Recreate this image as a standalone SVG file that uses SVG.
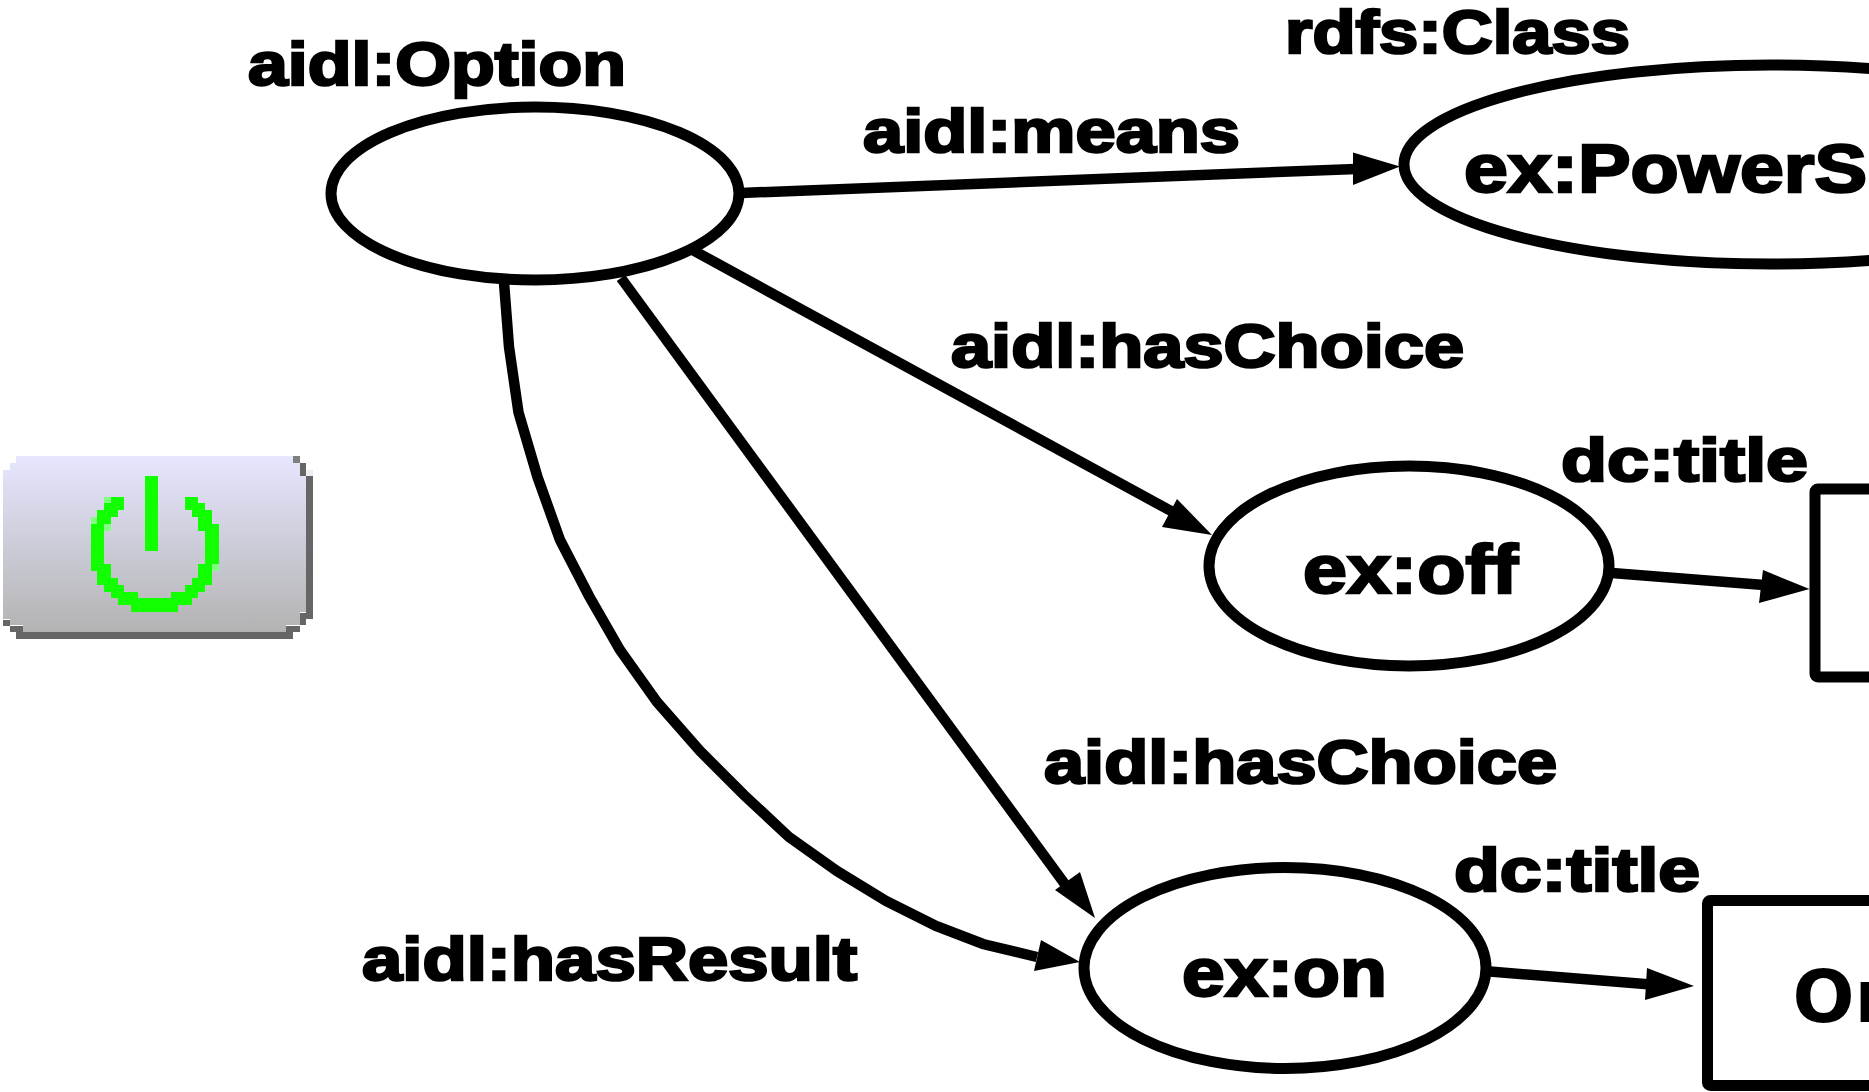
<svg xmlns="http://www.w3.org/2000/svg" width="1869" height="1092" viewBox="0 0 1869 1092">
<style>
text{font-family:"Liberation Sans",Arial,sans-serif;font-weight:700;fill:#000;stroke:#000;stroke-width:2.5}
.lbl{font-size:61px}
.nt{font-size:68px}
.lit{font-family:"DejaVu Sans",sans-serif;font-size:73px;stroke:none}
.shape{fill:#fff;stroke:#000;stroke-width:11}
.edge{fill:none;stroke:#000;stroke-width:10.5}
.head{fill:#000;stroke:none}
</style>
<defs>
<linearGradient id="btn" x1="0" y1="0" x2="0" y2="1">
<stop offset="0" stop-color="#e6e6ff"/><stop offset="1" stop-color="#b3b3b3"/>
</linearGradient>
</defs>
<rect width="1869" height="1092" fill="#fff"/>

<g id="connectors">
<path class="edge" d="M741 193L1356 169"/><polygon class="head" points="1400,166.500 1353,152.500 1353,185"/>
<path class="edge" d="M692.500 250L1172 511.500"/><polygon class="head" points="1212,535 1177,499 1162,527"/>
<path class="edge" d="M621 278L1067 887"/><polygon class="head" points="1095,918 1080,872 1055,890"/>
<path class="edge" d="M504 282.500L509 347L518.500 412.500L537.500 477L560 540L589 596L620 650L657 702L700 751L744 795L789 837L837 871L886 901L936 926L983 944L1037 957"/><polygon class="head" points="1080,962 1041,940 1034,971"/>
<path class="edge" d="M1612 573L1764 585"/><polygon class="head" points="1809.500,589 1763,570 1759,603"/>
<path class="edge" d="M1490 971.500L1651 984.500"/><polygon class="head" points="1694,986 1647,968 1645,1000"/>
</g>

<g id="node-option"><ellipse class="shape" cx="535" cy="193.500" rx="204" ry="86.500"/></g>
<g id="node-option-label"><text class="lbl" x="248" y="85" textLength="378" lengthAdjust="spacingAndGlyphs">aidl:Option</text></g>

<g id="node-powerswitch"><ellipse class="shape" cx="1771" cy="164.500" rx="367" ry="99.500"/>
<text class="nt" x="1464" y="192" textLength="403" lengthAdjust="spacingAndGlyphs">ex:PowerS</text></g>
<g id="node-class-label"><text class="lbl" x="1285" y="53" textLength="345" lengthAdjust="spacingAndGlyphs">rdfs:Class</text></g>

<g id="node-off"><ellipse class="shape" cx="1409" cy="566" rx="200" ry="100"/>
<text class="nt" x="1303" y="593" textLength="215" lengthAdjust="spacingAndGlyphs">ex:off</text></g>

<g id="node-on"><ellipse class="shape" cx="1285" cy="968" rx="201" ry="100.500"/>
<text class="nt" x="1182" y="995.500" textLength="205" lengthAdjust="spacingAndGlyphs">ex:on</text></g>

<g id="node-off-literal"><rect class="shape" x="1815" y="489" width="120" height="188" rx="3"/></g>
<g id="node-on-literal"><rect class="shape" x="1707.500" y="900.500" width="240" height="185" rx="3"/>
<text class="lit" x="1792.500" y="1022">On</text></g>

<g id="edge-labels">
<text class="lbl" x="863" y="152" textLength="377" lengthAdjust="spacingAndGlyphs">aidl:means</text>
<text class="lbl" x="951" y="367" textLength="513" lengthAdjust="spacingAndGlyphs">aidl:hasChoice</text>
<text class="lbl" x="1561" y="480.500" textLength="247" lengthAdjust="spacingAndGlyphs">dc:title</text>
<text class="lbl" x="1044" y="783" textLength="513" lengthAdjust="spacingAndGlyphs">aidl:hasChoice</text>
<text class="lbl" x="1454" y="890.500" textLength="246" lengthAdjust="spacingAndGlyphs">dc:title</text>
<text class="lbl" x="362" y="980" textLength="495" lengthAdjust="spacingAndGlyphs">aidl:hasResult</text>
</g>

<g id="node-button" transform="translate(0,440) scale(0.33333)" shape-rendering="crispEdges">
<polygon fill="url(#btn)" points="48,48 879,48 879,69 900,69 900,108 918,108 918,516 900,516 900,555 858,555 858,575 69,575 69,555 30,555 30,537 9,537 9,90 30,90 30,69 48,69"/>
<path fill="#666" d="M918 108h21v429h-21v18h-18v20h-21v22H48v-22H30v-18H9v-18h21v18h39v20h789v-20h42v-39h18zM900 69h18v39h-18z"/>
<rect x="879" y="48" width="21" height="21" fill="#808080"/>
<rect x="918" y="90" width="21" height="18" fill="#eee"/>
<path fill="#1f0" d="M435 108h39v225h-39zM333 171h39v18h-39zM312 189h60v21h-60zM291 210h63v21h-63zM291 231h42v21h-42zM273 252h39v120h-39zM273 372h60v21h-60zM291 393h42v21h-42zM291 414h63v21h-63zM312 435h60v21h-60zM333 456h81v18h-81zM354 474h222v21H354zM393 495h141v21H393zM555 171h39v18h-39zM555 189h60v21h-60zM576 210h60v21h-60zM594 231h42v21h-42zM594 252h63v21h-63zM615 273h42v99h-42zM594 372h42v42h-42zM576 414h60v21h-60zM555 435h60v21h-60zM513 456h81v18h-81z"/>
<path fill="#80ff80" d="M312 171h21v18h-21zM273 231h18v21h-18zM312 252h21v21h-21zM636 372h21v21h-21z"/>
</g>
</svg>
